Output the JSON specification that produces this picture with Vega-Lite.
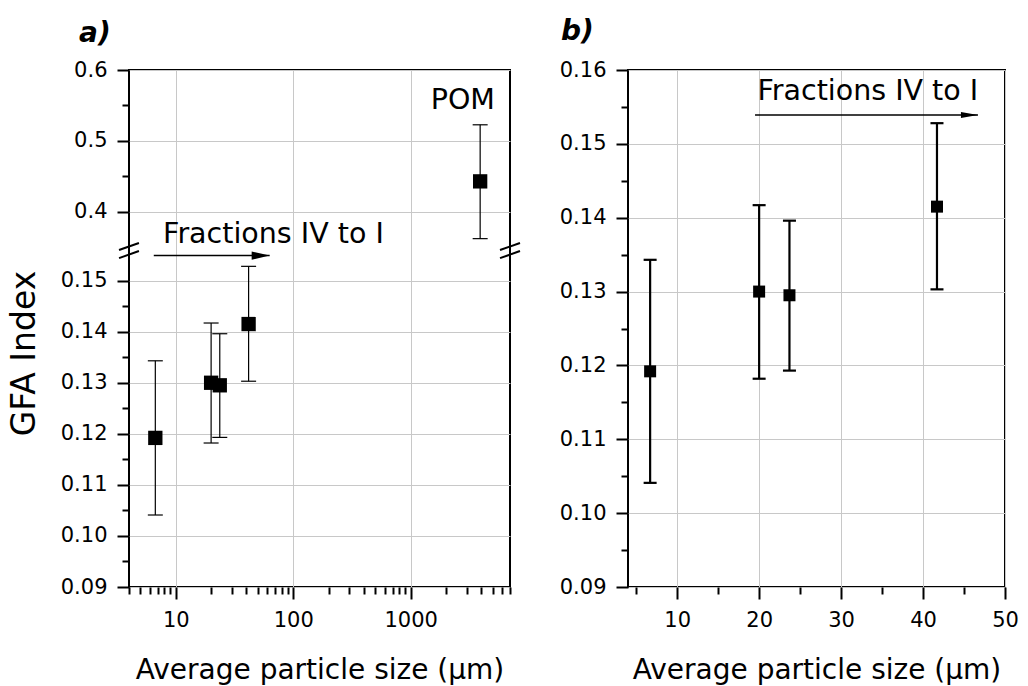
{
  "$schema": "https://vega.github.io/schema/vega-lite/v6.json",
  "background": "white",
  "padding": {"left": 7, "top": 17, "right": 5, "bottom": 0},
  "spacing": 36,
  "datasets": {
    "a_pts": [
      {"x": 6.7, "y": 0.1192, "lo": 0.1041, "hi": 0.1343},
      {"x": 20.0, "y": 0.1300, "lo": 0.1182, "hi": 0.1417},
      {"x": 23.7, "y": 0.1295, "lo": 0.1193, "hi": 0.1396},
      {"x": 41.7, "y": 0.1415, "lo": 0.1303, "hi": 0.1528},
      {"x": 3900, "y": 0.4427, "lo": 0.3618, "hi": 0.5226}
    ],
    "b_pts": [
      {"x": 6.7, "y": 0.1192, "lo": 0.1041, "hi": 0.1343},
      {"x": 20.0, "y": 0.1300, "lo": 0.1182, "hi": 0.1417},
      {"x": 23.7, "y": 0.1295, "lo": 0.1193, "hi": 0.1396},
      {"x": 41.7, "y": 0.1415, "lo": 0.1303, "hi": 0.1528}
    ],
    "a_arrow": [{"x": 6.5, "x2": 63, "y": 0.1549}],
    "b_arrow": [{"x": 19.5, "x2": 46.7, "y": 0.1539}],
    "a_text": [
      {"x": 7.8, "y": 0.3684, "label": "Fractions IV to I"},
      {"x": 1480, "y": 0.5575, "label": "POM"}
    ],
    "b_text": [{"x": 19.8, "y": 0.15716, "label": "Fractions IV to I"}],
    "a_breaks": [
      {"x": 3.29, "x2": 4.86, "y": 0.156, "y2": 0.3557},
      {"x": 3.29, "x2": 4.86, "y": 0.1544, "y2": 0.1558},
      {"x": 5756, "x2": 8512, "y": 0.156, "y2": 0.3557},
      {"x": 5756, "x2": 8512, "y": 0.1544, "y2": 0.1558}
    ]
  },
  "hconcat": [
    {
      "width": 381,
      "height": 517,
      "title": {"text": "a)", "anchor": "start", "frame": "group", "dx": -50, "offset": 11, "fontSize": 28, "fontStyle": "italic", "fontWeight": "bold", "font": "DejaVu Sans", "color": "black"},
      "resolve": {"axis": {"x": "independent", "y": "independent"}},
      "layer": [
        {
          "data": {"name": "a_pts"},
          "mark": {"type": "rule", "color": "black", "strokeWidth": 1.2},
          "encoding": {
            "x": {"field": "x", "type": "quantitative",
              "scale": {"type": "log", "domain": [4, 7000], "nice": false},
              "axis": {
                "orient": "bottom",
                "title": "Average particle size (μm)",
                "titleFontSize": 28, "titlePadding": 26,
                "values": [10, 100, 1000],
                "format": "d",
                "tickSize": 12,
                "grid": true
              }},
            "y": {"field": "lo", "type": "quantitative",
              "scale": {"domain": [0.09, 0.156, 0.35, 0.6], "range": [517, 180, 177, 0], "nice": false, "zero": false},
              "axis": {
                "orient": "left",
                "title": "GFA Index",
                "titleFontSize": 33, "titlePadding": 19, "titleY": 283,
                "values": [0.09, 0.1, 0.11, 0.12, 0.13, 0.14, 0.15, 0.4, 0.5, 0.6],
                "labelExpr": "datum.value < 0.3 ? format(datum.value, '.2f') : format(datum.value, '.1f')",
                "tickSize": 12,
                "grid": true
              }},
            "y2": {"field": "hi"}
          }
        },
        {
          "data": {"name": "a_pts"},
          "mark": {"type": "tick", "orient": "horizontal", "size": 15, "thickness": 1.2, "color": "black", "opacity": 1},
          "encoding": {
            "x": {"field": "x", "type": "quantitative", "scale": {"type": "log", "domain": [4, 7000], "nice": false}, "axis": null},
            "y": {"field": "hi", "type": "quantitative", "scale": {"domain": [0.09, 0.156, 0.35, 0.6], "range": [517, 180, 177, 0], "nice": false, "zero": false}, "axis": null}
          }
        },
        {
          "data": {"name": "a_pts"},
          "mark": {"type": "tick", "orient": "horizontal", "size": 15, "thickness": 1.2, "color": "black", "opacity": 1},
          "encoding": {
            "x": {"field": "x", "type": "quantitative", "scale": {"type": "log", "domain": [4, 7000], "nice": false}, "axis": null},
            "y": {"field": "lo", "type": "quantitative", "scale": {"domain": [0.09, 0.156, 0.35, 0.6], "range": [517, 180, 177, 0], "nice": false, "zero": false}, "axis": null}
          }
        },
        {
          "data": {"name": "a_pts"},
          "mark": {"type": "point", "shape": "square", "filled": true, "color": "black", "opacity": 1, "size": 205},
          "encoding": {
            "x": {"field": "x", "type": "quantitative", "scale": {"type": "log", "domain": [4, 7000], "nice": false},
              "axis": {"orient": "bottom", "title": null, "labels": false, "grid": false, "tickSize": 7,
                "values": [4,5,6,7,8,9,20,30,40,50,60,70,80,90,200,300,400,500,600,700,800,900,2000,3000,4000,5000,6000,7000]}},
            "y": {"field": "y", "type": "quantitative", "scale": {"domain": [0.09, 0.156, 0.35, 0.6], "range": [517, 180, 177, 0], "nice": false, "zero": false},
              "axis": {"orient": "left", "title": null, "labels": false, "grid": false, "tickSize": 7,
                "values": [0.095, 0.105, 0.115, 0.125, 0.135, 0.145, 0.45, 0.55]}}
          }
        },
        {
          "data": {"name": "a_arrow"},
          "mark": {"type": "rule", "color": "black", "strokeWidth": 1.5},
          "encoding": {
            "x": {"field": "x", "type": "quantitative", "scale": {"type": "log", "domain": [4, 7000], "nice": false}, "axis": null},
            "x2": {"field": "x2"},
            "y": {"field": "y", "type": "quantitative", "scale": {"domain": [0.09, 0.156, 0.35, 0.6], "range": [517, 180, 177, 0], "nice": false, "zero": false}, "axis": null}
          }
        },
        {
          "data": {"name": "a_arrow"},
          "mark": {"type": "point", "shape": "M-2,-0.45L0,0L-2,0.45Z", "filled": true, "color": "black", "opacity": 1, "size": 324},
          "encoding": {
            "x": {"field": "x2", "type": "quantitative", "scale": {"type": "log", "domain": [4, 7000], "nice": false}, "axis": null},
            "y": {"field": "y", "type": "quantitative", "scale": {"domain": [0.09, 0.156, 0.35, 0.6], "range": [517, 180, 177, 0], "nice": false, "zero": false}, "axis": null}
          }
        },
        {
          "data": {"name": "a_text"},
          "mark": {"type": "text", "align": "left", "baseline": "middle", "font": "DejaVu Sans", "fontSize": 28.5, "color": "black"},
          "encoding": {
            "x": {"field": "x", "type": "quantitative", "scale": {"type": "log", "domain": [4, 7000], "nice": false}, "axis": null},
            "y": {"field": "y", "type": "quantitative", "scale": {"domain": [0.09, 0.156, 0.35, 0.6], "range": [517, 180, 177, 0], "nice": false, "zero": false}, "axis": null},
            "text": {"field": "label"}
          }
        },
        {
          "data": {"name": "a_breaks"},
          "mark": {"type": "rule", "color": "black", "strokeWidth": 2},
          "encoding": {
            "x": {"field": "x", "type": "quantitative", "scale": {"type": "log", "domain": [4, 7000], "nice": false}, "axis": null},
            "x2": {"field": "x2"},
            "y": {"field": "y", "type": "quantitative", "scale": {"domain": [0.09, 0.156, 0.35, 0.6], "range": [517, 180, 177, 0], "nice": false, "zero": false}, "axis": null},
            "y2": {"field": "y2"}
          }
        }
      ]
    },
    {
      "width": 377,
      "height": 517,
      "title": {"text": "b)", "anchor": "start", "frame": "group", "dx": -67, "offset": 13, "fontSize": 28, "fontStyle": "italic", "fontWeight": "bold", "font": "DejaVu Sans", "color": "black"},
      "resolve": {"axis": {"x": "independent", "y": "independent"}},
      "layer": [
        {
          "data": {"name": "b_pts"},
          "mark": {"type": "rule", "color": "black", "strokeWidth": 2.2},
          "encoding": {
            "x": {"field": "x", "type": "quantitative",
              "scale": {"domain": [4, 50], "nice": false, "zero": false},
              "axis": {
                "orient": "bottom",
                "title": "Average particle size (μm)",
                "titleFontSize": 28, "titlePadding": 26,
                "values": [10, 20, 30, 40, 50],
                "format": "d",
                "tickSize": 12,
                "grid": true
              }},
            "y": {"field": "lo", "type": "quantitative",
              "scale": {"domain": [0.09, 0.16], "nice": false, "zero": false},
              "axis": {
                "orient": "left",
                "title": null,
                "values": [0.09, 0.1, 0.11, 0.12, 0.13, 0.14, 0.15, 0.16],
                "format": ".2f",
                "tickSize": 12,
                "grid": true
              }},
            "y2": {"field": "hi"}
          }
        },
        {
          "data": {"name": "b_pts"},
          "mark": {"type": "tick", "orient": "horizontal", "size": 13, "thickness": 2.2, "color": "black", "opacity": 1},
          "encoding": {
            "x": {"field": "x", "type": "quantitative", "scale": {"domain": [4, 50], "nice": false, "zero": false}, "axis": null},
            "y": {"field": "hi", "type": "quantitative", "scale": {"domain": [0.09, 0.16], "nice": false, "zero": false}, "axis": null}
          }
        },
        {
          "data": {"name": "b_pts"},
          "mark": {"type": "tick", "orient": "horizontal", "size": 13, "thickness": 2.2, "color": "black", "opacity": 1},
          "encoding": {
            "x": {"field": "x", "type": "quantitative", "scale": {"domain": [4, 50], "nice": false, "zero": false}, "axis": null},
            "y": {"field": "lo", "type": "quantitative", "scale": {"domain": [0.09, 0.16], "nice": false, "zero": false}, "axis": null}
          }
        },
        {
          "data": {"name": "b_pts"},
          "mark": {"type": "point", "shape": "square", "filled": true, "color": "black", "opacity": 1, "size": 144},
          "encoding": {
            "x": {"field": "x", "type": "quantitative", "scale": {"domain": [4, 50], "nice": false, "zero": false},
              "axis": {"orient": "bottom", "title": null, "labels": false, "grid": false, "tickSize": 7,
                "values": [5, 15, 25, 35, 45]}},
            "y": {"field": "y", "type": "quantitative", "scale": {"domain": [0.09, 0.16], "nice": false, "zero": false},
              "axis": {"orient": "left", "title": null, "labels": false, "grid": false, "tickSize": 7,
                "values": [0.095, 0.105, 0.115, 0.125, 0.135, 0.145, 0.155]}}
          }
        },
        {
          "data": {"name": "b_arrow"},
          "mark": {"type": "rule", "color": "black", "strokeWidth": 1.5},
          "encoding": {
            "x": {"field": "x", "type": "quantitative", "scale": {"domain": [4, 50], "nice": false, "zero": false}, "axis": null},
            "x2": {"field": "x2"},
            "y": {"field": "y", "type": "quantitative", "scale": {"domain": [0.09, 0.16], "nice": false, "zero": false}, "axis": null}
          }
        },
        {
          "data": {"name": "b_arrow"},
          "mark": {"type": "point", "shape": "M-2,-0.36L0,0L-2,0.36Z", "filled": true, "color": "black", "opacity": 1, "size": 289},
          "encoding": {
            "x": {"field": "x2", "type": "quantitative", "scale": {"domain": [4, 50], "nice": false, "zero": false}, "axis": null},
            "y": {"field": "y", "type": "quantitative", "scale": {"domain": [0.09, 0.16], "nice": false, "zero": false}, "axis": null}
          }
        },
        {
          "data": {"name": "b_text"},
          "mark": {"type": "text", "align": "left", "baseline": "middle", "font": "DejaVu Sans", "fontSize": 28.5, "color": "black"},
          "encoding": {
            "x": {"field": "x", "type": "quantitative", "scale": {"domain": [4, 50], "nice": false, "zero": false}, "axis": null},
            "y": {"field": "y", "type": "quantitative", "scale": {"domain": [0.09, 0.16], "nice": false, "zero": false}, "axis": null},
            "text": {"field": "label"}
          }
        }
      ]
    }
  ],
  "config": {
    "font": "DejaVu Sans",
    "view": {"stroke": "black", "strokeWidth": 2},
    "axis": {
      "labelFont": "DejaVu Sans", "labelFontSize": 21, "labelColor": "black",
      "titleFont": "DejaVu Sans", "titleFontWeight": "normal", "titleColor": "black",
      "tickColor": "black", "tickWidth": 2, "domain": false,
      "gridColor": "#c8c8c8", "gridWidth": 1,
      "labelFlush": false, "labelOverlap": false, "labelPadding": 10
    }
  }
}
